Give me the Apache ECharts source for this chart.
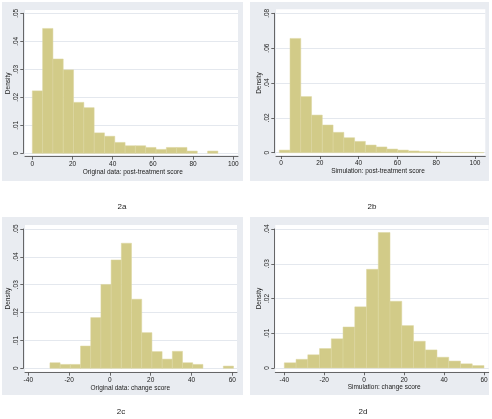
<!DOCTYPE html>
<html>
<head>
<meta charset="utf-8">
<script src="https://cdn.jsdelivr.net/npm/echarts@6/dist/echarts.min.js"></script>
<style>
  html, body { margin: 0; padding: 0; background: #fff; }
  #main { width: 492px; height: 419px; }
</style>
</head>
<body>
<div id="main"></div>
<script>
// histogram data (density per bin)
// 2a original data: post-treatment score
var postOrigStart = 0;
var postOrigWidth = 5.13;
var postOrigDensity = [0.0223, 0.0446, 0.0337, 0.0298, 0.0182, 0.0163, 0.0073, 0.0061, 0.0039,
    0.0027, 0.0027, 0.0021, 0.0014, 0.0021, 0.0021, 0.0008, 0, 0.0008];

// 2b simulation: post-treatment score
var postSimStart = -0.9;
var postSimWidth = 5.55;
var postSimDensity = [0.0015, 0.0656, 0.0322, 0.0216, 0.0159, 0.0117, 0.0086, 0.0065, 0.0044,
    0.0033, 0.0021, 0.0015, 0.0010, 0.0007, 0.0005, 0.0003, 0.0002, 0.0002, 0.0001];

// 2c original data: change score
var changeOrigStart = -29.4;
var changeOrigWidth = 5;
var changeOrigDensity = [0.0020, 0.0014, 0.0014, 0.0080, 0.0182, 0.0301, 0.0389, 0.0449, 0.0248,
    0.0128, 0.0060, 0.0033, 0.0061, 0.0020, 0.0014, 0, 0, 0.0008];

// 2d simulation: change score
var changeSimStart = -40;
var changeSimWidth = 100 / 17;
var changeSimDensity = [0.0015, 0.0025, 0.0038, 0.0056, 0.0084, 0.0118, 0.0176, 0.0284, 0.0390,
    0.0192, 0.0122, 0.0077, 0.0052, 0.0031, 0.0020, 0.0012, 0.0007];

// axes
var xTitles = ['Original data: post-treatment score', 'Simulation: post-treatment score',
    'Original data: change score', 'Simulation: change score'];
var xRanges = [[0, 100, 20], [0, 100, 20], [-40, 60, 20], [-40, 60, 20]];
var yRanges = [[0, 0.05, 0.01], [0, 0.08, 0.02], [0, 0.05, 0.01], [0, 0.04, 0.01]];
var panelLabels = ['2a', '2b', '2c', '2d'];

var FONT = 'Liberation Sans';
var BAR_FILL = '#d2cb88';
var BAR_LINE = '#ddd7a0';
var BG = '#e9ecf1';
var GRIDLINE = '#e4e8ee';
var AXIS = '#444';
var TEXT = '#222';

// layout of each panel (pixels)
var layout = [
    {bg: [2, 2, 241, 179], plot: [25, 10, 213, 145], data: [32.3, 13.3, 201, 140], xLine: 156.7, yLine: 23.3, label: [122, 207]},
    {bg: [250, 2, 239, 179], plot: [276, 9.3, 209.3, 145.7], data: [281, 13.3, 194, 139.4], xLine: 156, yLine: 274.3, label: [372, 207]},
    {bg: [2, 217, 241, 178], plot: [25, 225, 212, 146.7], data: [28.3, 229, 204, 139.3], xLine: 372.7, yLine: 23.3, label: [121, 412]},
    {bg: [250, 217, 239, 178], plot: [275.3, 225, 213.4, 146.7], data: [284.3, 229, 199.7, 139], xLine: 372.3, yLine: 274.3, label: [363, 412]}
];

function binsOf(start, width, dens) {
    var out = [];
    for (var i = 0; i < dens.length; i++) {
        out.push([start + i * width, start + (i + 1) * width, dens[i]]);
    }
    return out;
}

var histData = [
    binsOf(postOrigStart, postOrigWidth, postOrigDensity),
    binsOf(postSimStart, postSimWidth, postSimDensity),
    binsOf(changeOrigStart, changeOrigWidth, changeOrigDensity),
    binsOf(changeSimStart, changeSimWidth, changeSimDensity)
];

function fmtY(v) {
    if (v === 0) return '0';
    return v.toFixed(2).replace(/^0\./, '.');
}

function renderBar(params, api) {
    var y = api.value(2);
    if (!y) return null;
    var p0 = api.coord([api.value(0), y]);
    var p1 = api.coord([api.value(1), 0]);
    return {
        type: 'rect',
        shape: {x: p0[0], y: p0[1], width: p1[0] - p0[0], height: p1[1] - p0[1]},
        style: {fill: BAR_FILL, stroke: BAR_LINE, lineWidth: 0.5}
    };
}

var grids = [], xAxes = [], yAxes = [], series = [], graphics = [];

for (var k = 0; k < 4; k++) {
    var L = layout[k];
    var d = L.data;
    var bottom = d[1] + d[3];

    graphics.push({type: 'rect', shape: {x: L.bg[0], y: L.bg[1], width: L.bg[2], height: L.bg[3]}, style: {fill: BG}, z: -10});
    graphics.push({type: 'rect', shape: {x: L.plot[0], y: L.plot[1], width: L.plot[2], height: L.plot[3]}, style: {fill: '#fff'}, z: -9});
    graphics.push({type: 'text', x: L.label[0], y: L.label[1],
        style: {text: panelLabels[k], font: '8px ' + FONT, fill: TEXT, textAlign: 'center', textVerticalAlign: 'middle'}});

    // frame grid: full-width axis lines and grid lines
    grids.push({left: L.plot[0], top: d[1], width: L.plot[2], height: d[3]});
    xAxes.push({
        type: 'value', gridIndex: 2 * k, min: 0, max: 1, offset: L.xLine - bottom,
        axisLine: {show: true, onZero: false, lineStyle: {color: AXIS, width: 0.8}},
        axisTick: {show: false}, axisLabel: {show: false}, splitLine: {show: false}
    });
    yAxes.push({
        type: 'value', gridIndex: 2 * k, min: yRanges[k][0], max: yRanges[k][1], interval: yRanges[k][2],
        offset: L.plot[0] - L.yLine,
        axisLine: {show: true, onZero: false, lineStyle: {color: AXIS, width: 0.8}},
        axisTick: {show: false}, axisLabel: {show: false},
        splitLine: {show: true, lineStyle: {color: GRIDLINE, width: 1}}
    });

    // data grid: ticks, labels, bars
    grids.push({left: d[0], top: d[1], width: d[2], height: d[3]});
    xAxes.push({
        type: 'value', gridIndex: 2 * k + 1, min: xRanges[k][0], max: xRanges[k][1], interval: xRanges[k][2],
        offset: L.xLine - bottom,
        name: xTitles[k], nameLocation: 'middle', nameGap: 10,
        nameTextStyle: {fontFamily: FONT, fontSize: 6.5, color: TEXT},
        axisLine: {show: false, onZero: false},
        axisTick: {show: true, inside: false, length: 3, lineStyle: {color: AXIS, width: 0.8}},
        axisLabel: {margin: 4, fontFamily: FONT, fontSize: 6.5, color: TEXT},
        splitLine: {show: false}
    });
    yAxes.push({
        type: 'value', gridIndex: 2 * k + 1, min: yRanges[k][0], max: yRanges[k][1], interval: yRanges[k][2],
        offset: d[0] - L.yLine,
        name: 'Density', nameLocation: 'middle', nameGap: 12, nameRotate: 90,
        nameTextStyle: {fontFamily: FONT, fontSize: 6.5, color: TEXT},
        axisLine: {show: false, onZero: false},
        axisTick: {show: true, inside: false, length: 3, lineStyle: {color: AXIS, width: 0.8}},
        axisLabel: {margin: 4, rotate: 90, fontFamily: FONT, fontSize: 6.5, color: TEXT, formatter: fmtY},
        splitLine: {show: false}
    });

    series.push({
        type: 'custom', xAxisIndex: 2 * k + 1, yAxisIndex: 2 * k + 1,
        renderItem: renderBar, data: histData[k], silent: true
    });
}

var myChart = echarts.init(document.getElementById('main'));
myChart.setOption({
    animation: false,
    backgroundColor: '#fff',
    grid: grids,
    xAxis: xAxes,
    yAxis: yAxes,
    series: series,
    graphic: graphics
});
</script>
</body>
</html>
